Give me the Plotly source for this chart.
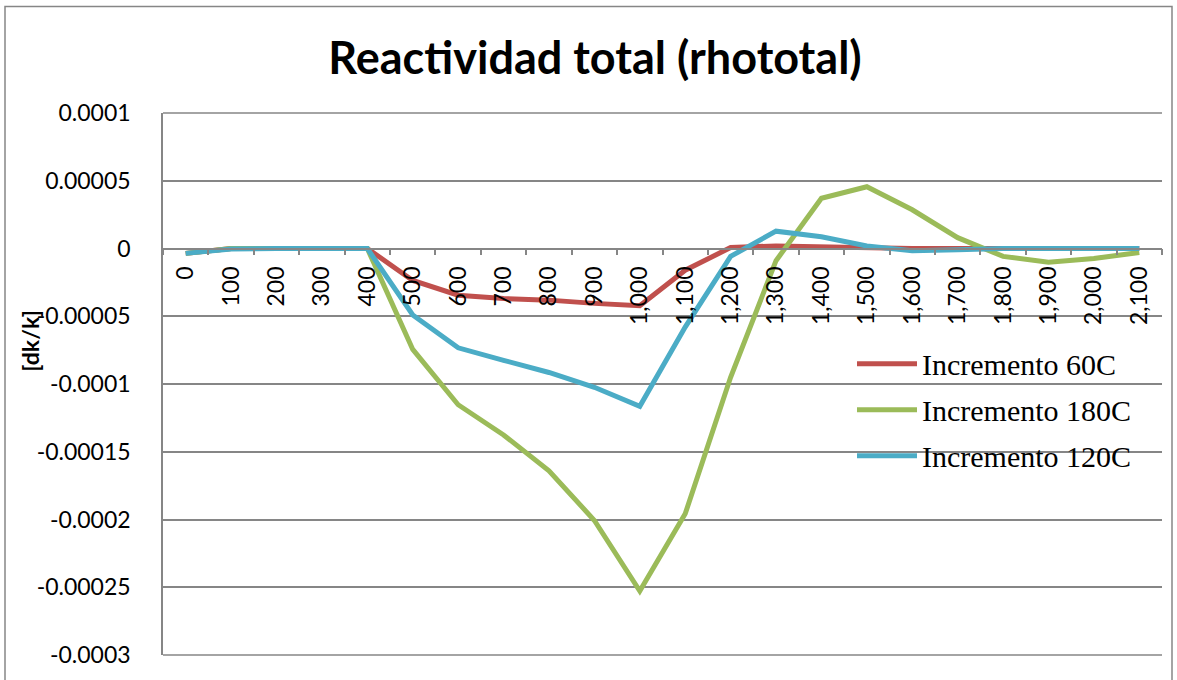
import plotly.graph_objects as go

# Time steps (category axis) and total reactivity per temperature increment
times = [0, 100, 200, 300, 400, 500, 600, 700, 800, 900, 1000,
         1100, 1200, 1300, 1400, 1500, 1600, 1700, 1800, 1900, 2000, 2100]

rho_60 = [-0.0000036, 0.0, 0.0, 0.0, 0.0, -0.0000236, -0.0000345, -0.0000369,
          -0.0000381, -0.0000405, -0.0000422, -0.0000160, 0.0000007, 0.0000019,
          0.0000012, 0.0000003, 0.0, 0.0, 0.0, 0.0, 0.0, 0.0]

rho_180 = [-0.0000036, 0.0, 0.0, 0.0, 0.0, -0.0000745, -0.0001153, -0.0001376,
           -0.0001640, -0.0002007, -0.0002528, -0.0001958, -0.0000950, -0.0000090,
           0.0000371, 0.0000456, 0.0000286, 0.0000080, -0.0000058, -0.0000102,
           -0.0000073, -0.0000029]

rho_120 = [-0.0000036, -0.0000003, 0.0, 0.0, 0.0, -0.0000490, -0.0000733, -0.0000825,
           -0.0000915, -0.0001024, -0.0001165, -0.0000580, -0.0000058, 0.0000128,
           0.0000087, 0.0000019, -0.0000017, -0.0000010, 0.0, 0.0, 0.0, 0.0]

series_names = ["Incremento 60C", "Incremento 180C", "Incremento 120C"]
series_colors = ["#C0504D", "#9BBB59", "#4BACC6"]

y_tickvals = [0.0001, 0.00005, 0.0, -0.00005, -0.0001, -0.00015, -0.0002, -0.00025, -0.0003]
y_ticktext = ["0.0001", "0.00005", "0", "-0.00005", "-0.0001", "-0.00015",
              "-0.0002", "-0.00025", "-0.0003"]

x_labels = [f"{t:,}" for t in times]

GRID = "#868686"

fig = go.Figure()
for name, ys, color in zip(series_names, [rho_60, rho_180, rho_120], series_colors):
    fig.add_trace(go.Scatter(
        x=x_labels, y=ys, name=name, mode="lines",
        line=dict(color=color, width=5),
        legendgroup=name,
    ))

# Plot area: left 163, right 1162, top 113, bottom 663 (px)
L, R, T, B = 163, 1162, 113, 663
W, H = 1177, 680
pw, ph = R - L, B - T

def px_x(x):
    return (x - L) / pw

def px_y(y):
    return (B - y) / ph

fig.update_layout(
    width=W, height=H,
    margin=dict(l=L, r=W - R, t=T, b=H - B, pad=0),
    paper_bgcolor="white", plot_bgcolor="white",
    title=dict(
        text="<b>Reactividad total (rhototal)</b>",
        x=595 / W, xref="container", xanchor="center",
        y=1 - 58 / H, yref="container", yanchor="middle",
        font=dict(family="Lato", size=45, color="black"),
    ),
    xaxis=dict(
        type="category",
        categoryorder="array", categoryarray=x_labels,
        range=[-0.5, len(times) - 0.5],
        anchor="free", position=0.75,
        showline=True, linecolor=GRID, linewidth=1.5,
        showgrid=False, zeroline=False,
        ticks="outside", ticklen=6, tickcolor=GRID, tickwidth=1.5,
        tickson="boundaries",
        tickangle=-90,
        ticklabelstandoff=8,
        tickfont=dict(family="Lato", size=23, color="black"),
    ),
    yaxis=dict(
        range=[-0.0003, 0.0001],
        tickvals=y_tickvals, ticktext=y_ticktext,
        showline=True, linecolor=GRID, linewidth=1.5,
        showgrid=True, gridcolor=GRID, gridwidth=1.5,
        zeroline=False,
        ticks="", ticklabelstandoff=26,
        tickfont=dict(family="Lato", size=23, color="black"),
    ),
    legend=dict(
        x=px_x(852), y=px_y(341), xanchor="left", yanchor="top",
        bgcolor="rgba(0,0,0,0)", borderwidth=0,
        font=dict(family="Liberation Serif", size=30, color="black"),
        tracegroupgap=4, itemwidth=60,
    ),
    showlegend=True,
)

# Axis title
fig.add_annotation(
    text="<b>[dk/k]</b>", textangle=-90,
    xref="paper", yref="paper",
    x=px_x(30), y=px_y(344), xanchor="center", yanchor="middle",
    showarrow=False,
    font=dict(family="Lato", size=23, color="black"),
)

# Top and bottom edges of the value grid
for yp in (0, 1):
    fig.add_shape(
        type="line", xref="paper", yref="paper",
        x0=0, x1=1, y0=yp, y1=yp,
        line=dict(color=GRID, width=1.5), layer="below",
    )

# Chart-area border
fig.add_shape(
    type="rect", xref="paper", yref="paper",
    x0=px_x(5), x1=px_x(1172), y0=px_y(5), y1=px_y(720),
    line=dict(color=GRID, width=1.5), layer="below",
)

fig.write_html("out.html")
